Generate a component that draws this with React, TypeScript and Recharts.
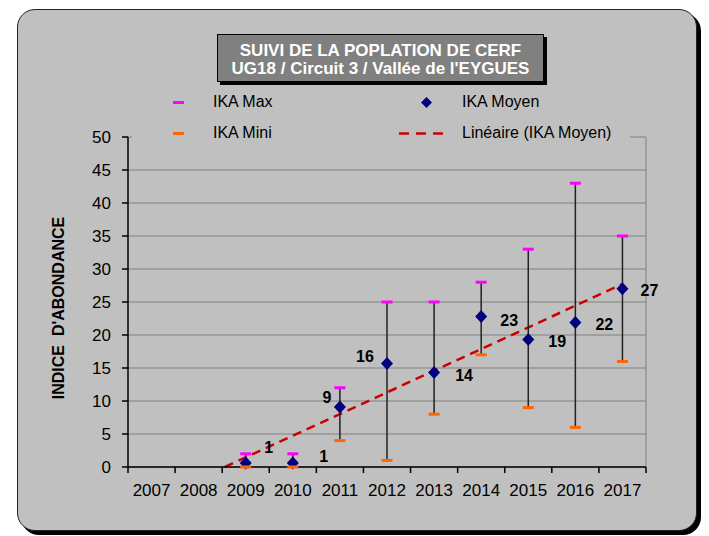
import React from 'react';
import { ComposedChart, Scatter, Line, XAxis, YAxis, CartesianGrid, ErrorBar, Legend } from 'recharts';

// ---------- data ----------
const years = ['2007', '2008', '2009', '2010', '2011', '2012', '2013', '2014', '2015', '2016', '2017'];
const surveyYears = ['2009', '2010', '2011', '2012', '2013', '2014', '2015', '2016', '2017'];
const ikaMoyen = [0.6, 0.6, 9.1, 15.7, 14.3, 22.8, 19.3, 21.9, 27.0];
const ikaMax = [2, 2, 12, 25, 25, 28, 33, 43, 35];
const ikaMini = [0, 0, 4, 1, 8, 17, 9, 6, 16];
const yTicks = [0, 5, 10, 15, 20, 25, 30, 35, 40, 45, 50];

const titleLines = ['SUIVI DE LA POPLATION DE CERF', "UG18 / Circuit 3 / Vallée de l'EYGUES"];
const yLabel = "INDICE  D'ABONDANCE";

// label placement (offset of label centre from the point), style only
const labelOffsets: [number, number][] = [
  [23, -16], [31, -7], [-13, -9], [-22, -7], [30, 3], [28, 4], [29, 2], [29, 2], [27, 2],
];

// ---------- layout ----------
const FONT = '"Liberation Sans", Arial, Helvetica, sans-serif';
const W = 709;
const H = 536;
const MARGIN = { top: 137, right: 63, bottom: 39, left: 47 };
const Y_AXIS_W = 81;
const X_AXIS_H = 30;
const PLOT_W = W - MARGIN.left - Y_AXIS_W - MARGIN.right;
const HALF_BAND = PLOT_W / years.length / 2;

const NAVY = '#000080';
const MAGENTA = '#ff00ff';
const ORANGE = '#ff6600';
const RED = '#cc0000';

// ---------- derived tables ----------
const chartData = years.map((year) => {
  const i = surveyYears.indexOf(year);
  if (i < 0) return { year };
  return {
    year,
    mean: ikaMoyen[i],
    max: ikaMax[i],
    min: ikaMini[i],
    err: [ikaMoyen[i] - ikaMini[i], ikaMax[i] - ikaMoyen[i]],
  };
});

// Linear trendline (least squares) of IKA Moyen, as Excel's "Linéaire (IKA Moyen)"
const xs = surveyYears.map(Number);
const n = xs.length;
const mx = xs.reduce((a, b) => a + b, 0) / n;
const my = ikaMoyen.reduce((a, b) => a + b, 0) / n;
let sxy = 0;
let sxx = 0;
xs.forEach((x, i) => {
  sxy += (x - mx) * (ikaMoyen[i] - my);
  sxx += (x - mx) * (x - mx);
});
const slope = sxy / sxx;
const intercept = my - slope * mx;
const firstYear = Number(years[0]);
const lastYear = Number(years[years.length - 1]);
const trendStart = Math.max(firstYear, -intercept / slope);
const trendData = [
  { t: trendStart, v: slope * trendStart + intercept },
  { t: lastYear, v: slope * lastYear + intercept },
];

// ---------- renderers ----------
const ok = (v: any) => typeof v === 'number' && isFinite(v);

const MeanShape = (props: any) => {
  const { cx, cy, payload } = props;
  if (!ok(cx) || !ok(cy)) return null;
  const i = surveyYears.indexOf(payload.year);
  const [dx, dy] = labelOffsets[i] || [28, 0];
  return (
    <g>
      <polygon
        points={`${cx},${cy - 6.5} ${cx + 6},${cy} ${cx},${cy + 6.5} ${cx - 6},${cy}`}
        fill={NAVY}
      />
      <text
        x={cx + dx}
        y={cy + dy}
        textAnchor="middle"
        dominantBaseline="central"
        fontFamily={FONT}
        fontWeight="bold"
        fontSize={16}
        fill="#000"
      >
        {Math.round(payload.mean)}
      </text>
    </g>
  );
};

const capShape = (color: string) => (props: any) => {
  const { cx, cy } = props;
  if (!ok(cx) || !ok(cy)) return null;
  return <rect x={cx - 5.5} y={cy - 1.5} width={11} height={3} fill={color} />;
};

const XTick = (props: any) => {
  const { x, y, payload, index } = props;
  const isLast = index === years.length - 1;
  return (
    <g>
      <line x1={x - HALF_BAND} x2={x - HALF_BAND} y1={y} y2={y + 6} stroke="#000" strokeWidth={1.5} />
      {isLast && <line x1={x + HALF_BAND} x2={x + HALF_BAND} y1={y} y2={y + 6} stroke="#000" strokeWidth={1.5} />}
      <text x={x} y={y + 29} textAnchor="middle" fontFamily={FONT} fontSize={17} fill="#000">
        {payload.value}
      </text>
    </g>
  );
};

const renderYLabel = (props: any) => {
  const vb = props.viewBox || {};
  const x = vb.x + 11;
  const y = vb.y + vb.height / 2 + 6;
  return (
    <text
      x={x}
      y={y}
      transform={`rotate(-90, ${x}, ${y})`}
      textAnchor="middle"
      dominantBaseline="central"
      fontFamily={FONT}
      fontWeight="bold"
      fontSize={16}
      fill="#000"
      style={{ whiteSpace: 'pre' }}
    >
      {yLabel}
    </text>
  );
};

const legendText: React.CSSProperties = {
  position: 'absolute',
  fontFamily: FONT,
  fontSize: 16,
  lineHeight: '20px',
  color: '#000',
  whiteSpace: 'nowrap',
};

const renderLegend = () => (
  <div style={{ position: 'relative', width: 498, height: 60, background: '#c0c0c0' }}>
    <div style={{ position: 'absolute', left: 41, top: 15, width: 11, height: 3, background: MAGENTA }} />
    <div style={{ ...legendText, left: 81, top: 6 }}>IKA Max</div>
    <svg style={{ position: 'absolute', left: 289, top: 11 }} width={11} height={11}>
      <polygon points="5.5,0 11,5.5 5.5,11 0,5.5" fill={NAVY} />
    </svg>
    <div style={{ ...legendText, left: 330, top: 6 }}>IKA Moyen</div>
    <div style={{ position: 'absolute', left: 41, top: 46, width: 11, height: 3, background: ORANGE }} />
    <div style={{ ...legendText, left: 81, top: 37 }}>IKA Mini</div>
    <svg style={{ position: 'absolute', left: 267, top: 45 }} width={48} height={5}>
      <line x1={0} x2={48} y1={2.5} y2={2.5} stroke={RED} strokeWidth={2.5} strokeDasharray="10 7" />
    </svg>
    <div style={{ ...legendText, left: 330, top: 37 }}>Linéaire (IKA Moyen)</div>
  </div>
);

export default function App() {
  return (
    <div style={{ position: 'absolute', left: 0, top: 0, width: W, height: H, background: '#fff', fontFamily: FONT }}>
      {/* outer frame */}
      <div
        style={{
          position: 'absolute',
          left: 17,
          top: 9,
          width: 680,
          height: 522,
          boxSizing: 'border-box',
          border: '1.5px solid #222',
          borderRadius: 18,
          background: '#c0c0c0',
          boxShadow: '4px 4px 0 #000',
        }}
      />
      {/* title box */}
      <div
        style={{
          position: 'absolute',
          left: 217,
          top: 34,
          width: 327,
          height: 48,
          boxSizing: 'border-box',
          border: '1px solid #000',
          background: '#808080',
          boxShadow: '3px 3px 0 #000',
          color: '#fff',
          fontWeight: 'bold',
          fontSize: 17,
          lineHeight: '18px',
          textAlign: 'center',
          paddingTop: 7,
        }}
      >
        {titleLines.map((t) => (
          <div key={t}>{t}</div>
        ))}
      </div>
      <div style={{ position: 'absolute', left: 0, top: 0 }}>
        <ComposedChart width={W} height={H} data={chartData} margin={MARGIN}>
          <CartesianGrid
            stroke="#808080"
            strokeWidth={1}
            verticalCoordinatesGenerator={({ offset }: any) => [offset.left + offset.width]}
          />
          <XAxis
            dataKey="year"
            type="category"
            scale="band"
            height={X_AXIS_H}
            interval={0}
            tickLine={false}
            tickSize={0}
            tickMargin={0}
            axisLine={{ stroke: '#000', strokeWidth: 1.5 }}
            tick={XTick}
          />
          <XAxis
            xAxisId="trend"
            dataKey="t"
            type="number"
            domain={[firstYear - 0.5, lastYear + 0.5]}
            allowDataOverflow
            hide
          />
          <YAxis
            type="number"
            domain={[0, 50]}
            ticks={yTicks}
            interval={0}
            width={Y_AXIS_W}
            tick={{ fill: '#000', fontSize: 17, fontFamily: FONT }}
            tickLine={{ stroke: '#000', strokeWidth: 1.5 }}
            tickSize={6}
            tickMargin={11}
            axisLine={{ stroke: '#000', strokeWidth: 1.5 }}
            label={renderYLabel}
          />
          <Line
            xAxisId="trend"
            data={trendData}
            dataKey="v"
            stroke={RED}
            strokeWidth={2.5}
            strokeDasharray="9 6"
            dot={false}
            activeDot={false}
            isAnimationActive={false}
          />
          <Scatter dataKey="mean" shape={MeanShape} isAnimationActive={false}>
            <ErrorBar dataKey="err" direction="y" width={0} stroke="#222" strokeWidth={1.5} />
          </Scatter>
          <Scatter dataKey="max" shape={capShape(MAGENTA)} isAnimationActive={false} />
          <Scatter dataKey="min" shape={capShape(ORANGE)} isAnimationActive={false} />
          <Legend
            layout="horizontal"
            verticalAlign="middle"
            align="center"
            content={renderLegend}
            wrapperStyle={{ left: 132, top: 86, width: 498, height: 60 }}
          />
        </ComposedChart>
      </div>
    </div>
  );
}
